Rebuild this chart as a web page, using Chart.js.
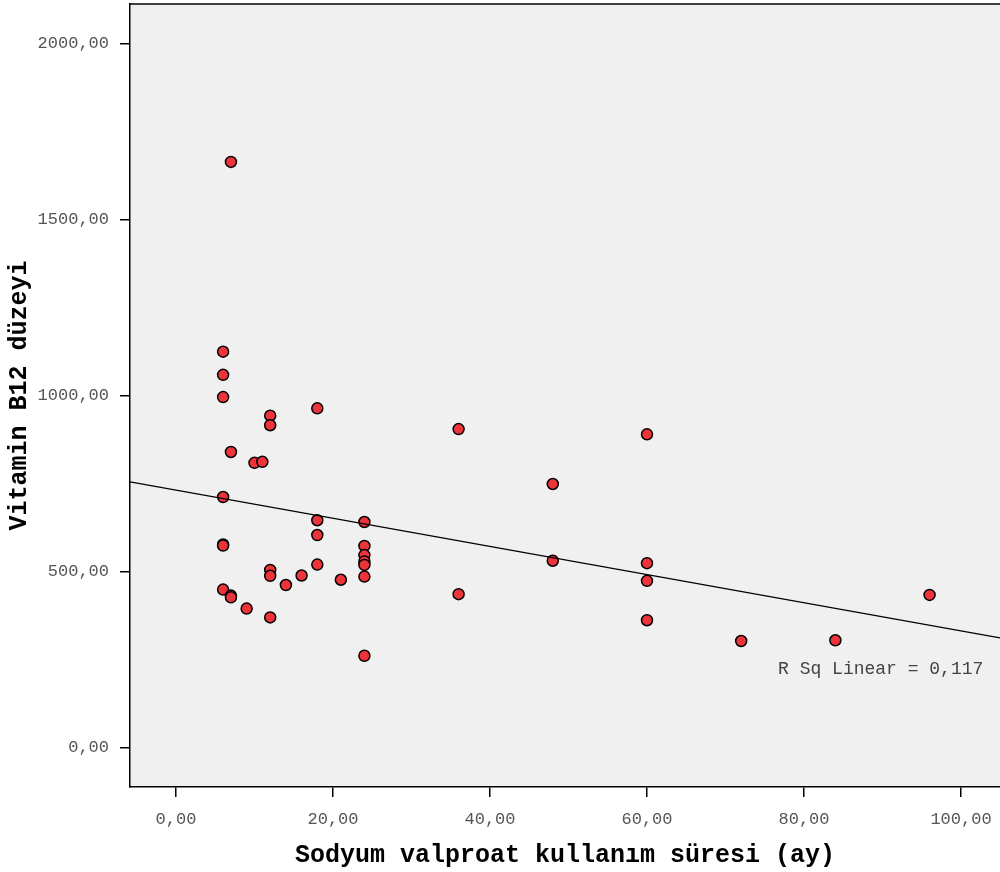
<!DOCTYPE html>
<html>
<head>
<meta charset="utf-8">
<script src="https://cdn.jsdelivr.net/npm/chart.js@4"></script>
<style>
  html, body { margin: 0; padding: 0; background: #fff; }
  #wrap { width: 1000px; height: 872px; }
</style>
</head>
<body>
<div id="wrap"><canvas id="scatter" width="1000" height="872"></canvas></div>
<script>
// Sodyum valproat kullanım süresi (ay)
const sureAy = [7, 6, 6, 6, 12, 12, 18, 7, 10, 11, 6, 6, 6, 6, 7, 7, 9, 12, 12, 12,
                14, 16, 18, 18, 18, 21, 24, 24, 24, 24, 24, 24, 24, 36, 36, 48, 48,
                60, 60, 60, 60, 72, 84, 96];
// Vitamin B12 düzeyi
const b12 = [1665, 1126, 1060, 997, 944, 917, 965, 841, 810, 813, 713, 578, 575, 450, 433, 428, 396, 371, 506, 489,
             463, 490, 647, 605, 521, 478, 642, 574, 548, 530, 520, 487, 262, 906, 437, 750, 532,
             891, 525, 475, 363, 304, 306, 435];

const xTicks = [0, 20, 40, 60, 80, 100];
const yTicks = [0, 500, 1000, 1500, 2000];
const xRange = [-5.86, 104.97];
const yRange = [-110.8, 2113.6];

// doğrusal uyum
const fitIntercept = 732.6;
const fitSlope = -4.0;
const rSqText = 'R Sq Linear = 0,117';
const rSqPos = { x: 76.7, y: 224 };

const monoFont = '"Liberation Mono", "DejaVu Sans Mono", monospace';

const points = sureAy.map((x, i) => ({ x: x, y: b12[i] }));
const fitLine = xRange.map(x => ({ x: x, y: fitIntercept + fitSlope * x }));

// ölçek kenar boşluklarını sıfırla
function noPad(s) {
  s.paddingTop = 0;
  s.paddingBottom = 0;
  s.paddingLeft = 0;
  s.paddingRight = 0;
}

const frame = {
  id: 'frame',
  beforeDraw(chart) {
    const { ctx, chartArea: a } = chart;
    ctx.save();
    ctx.fillStyle = '#f0f0f0';
    ctx.fillRect(a.left, a.top, a.right - a.left, a.bottom - a.top);
    ctx.restore();
  },
  afterDraw(chart) {
    const { ctx, chartArea: a, scales } = chart;
    ctx.save();
    ctx.strokeStyle = '#000';
    ctx.lineWidth = 1.5;
    ctx.beginPath();
    ctx.moveTo(a.left, a.top);
    ctx.lineTo(a.right, a.top);
    ctx.stroke();
    // R kare etiketi
    ctx.fillStyle = '#444';
    ctx.font = '18px ' + monoFont;
    ctx.textAlign = 'left';
    ctx.textBaseline = 'middle';
    ctx.fillText(rSqText, scales.x.getPixelForValue(rSqPos.x), scales.y.getPixelForValue(rSqPos.y));
    ctx.restore();
  }
};

new Chart(document.getElementById('scatter'), {
  type: 'scatter',
  data: {
    datasets: [
      {
        label: 'Vitamin B12',
        data: points,
        backgroundColor: 'rgb(236, 52, 58)',
        borderColor: '#000',
        borderWidth: 1.5,
        pointRadius: 5.5,
        order: 2
      },
      {
        type: 'line',
        label: 'Linear',
        data: fitLine,
        borderColor: '#000',
        borderWidth: 1.4,
        pointRadius: 0,
        fill: false,
        order: 1
      }
    ]
  },
  options: {
    responsive: false,
    animation: false,
    events: [],
    layout: { autoPadding: false, padding: { top: 4, right: 0, left: 0, bottom: 0 } },
    plugins: {
      legend: { display: false },
      tooltip: { enabled: false }
    },
    scales: {
      x: {
        type: 'linear',
        min: xRange[0],
        max: xRange[1],
        afterBuildTicks: s => { s.ticks = xTicks.map(v => ({ value: v })); },
        afterFit: s => { s.height = 85; noPad(s); },
        grid: { drawOnChartArea: false, drawTicks: true, tickLength: 10, color: '#000', lineWidth: 1.5 },
        border: { display: true, color: '#000', width: 1.5 },
        ticks: {
          color: '#555',
          padding: 12,
          maxRotation: 0,
          font: { family: monoFont, size: 17 },
          callback: v => v.toFixed(2).replace('.', ',')
        },
        title: {
          display: true,
          text: 'Sodyum valproat kullanım süresi (ay)',
          color: '#000',
          font: { family: monoFont, size: 25, weight: 'bold' },
          padding: { top: 0, bottom: 1 }
        }
      },
      y: {
        type: 'linear',
        min: yRange[0],
        max: yRange[1],
        afterBuildTicks: s => { s.ticks = yTicks.map(v => ({ value: v })); },
        afterFit: s => { s.width = 130; noPad(s); },
        grid: { drawOnChartArea: false, drawTicks: true, tickLength: 10, color: '#000', lineWidth: 1.5 },
        border: { display: true, color: '#000', width: 1.5 },
        ticks: {
          color: '#555',
          padding: 11,
          font: { family: monoFont, size: 17 },
          callback: v => v.toFixed(2).replace('.', ',')
        },
        title: {
          display: true,
          text: 'Vitamin B12 düzeyi',
          color: '#000',
          font: { family: monoFont, size: 25, weight: 'bold' },
          padding: { top: 5, bottom: 0 }
        }
      }
    }
  },
  plugins: [frame]
});
</script>
</body>
</html>
